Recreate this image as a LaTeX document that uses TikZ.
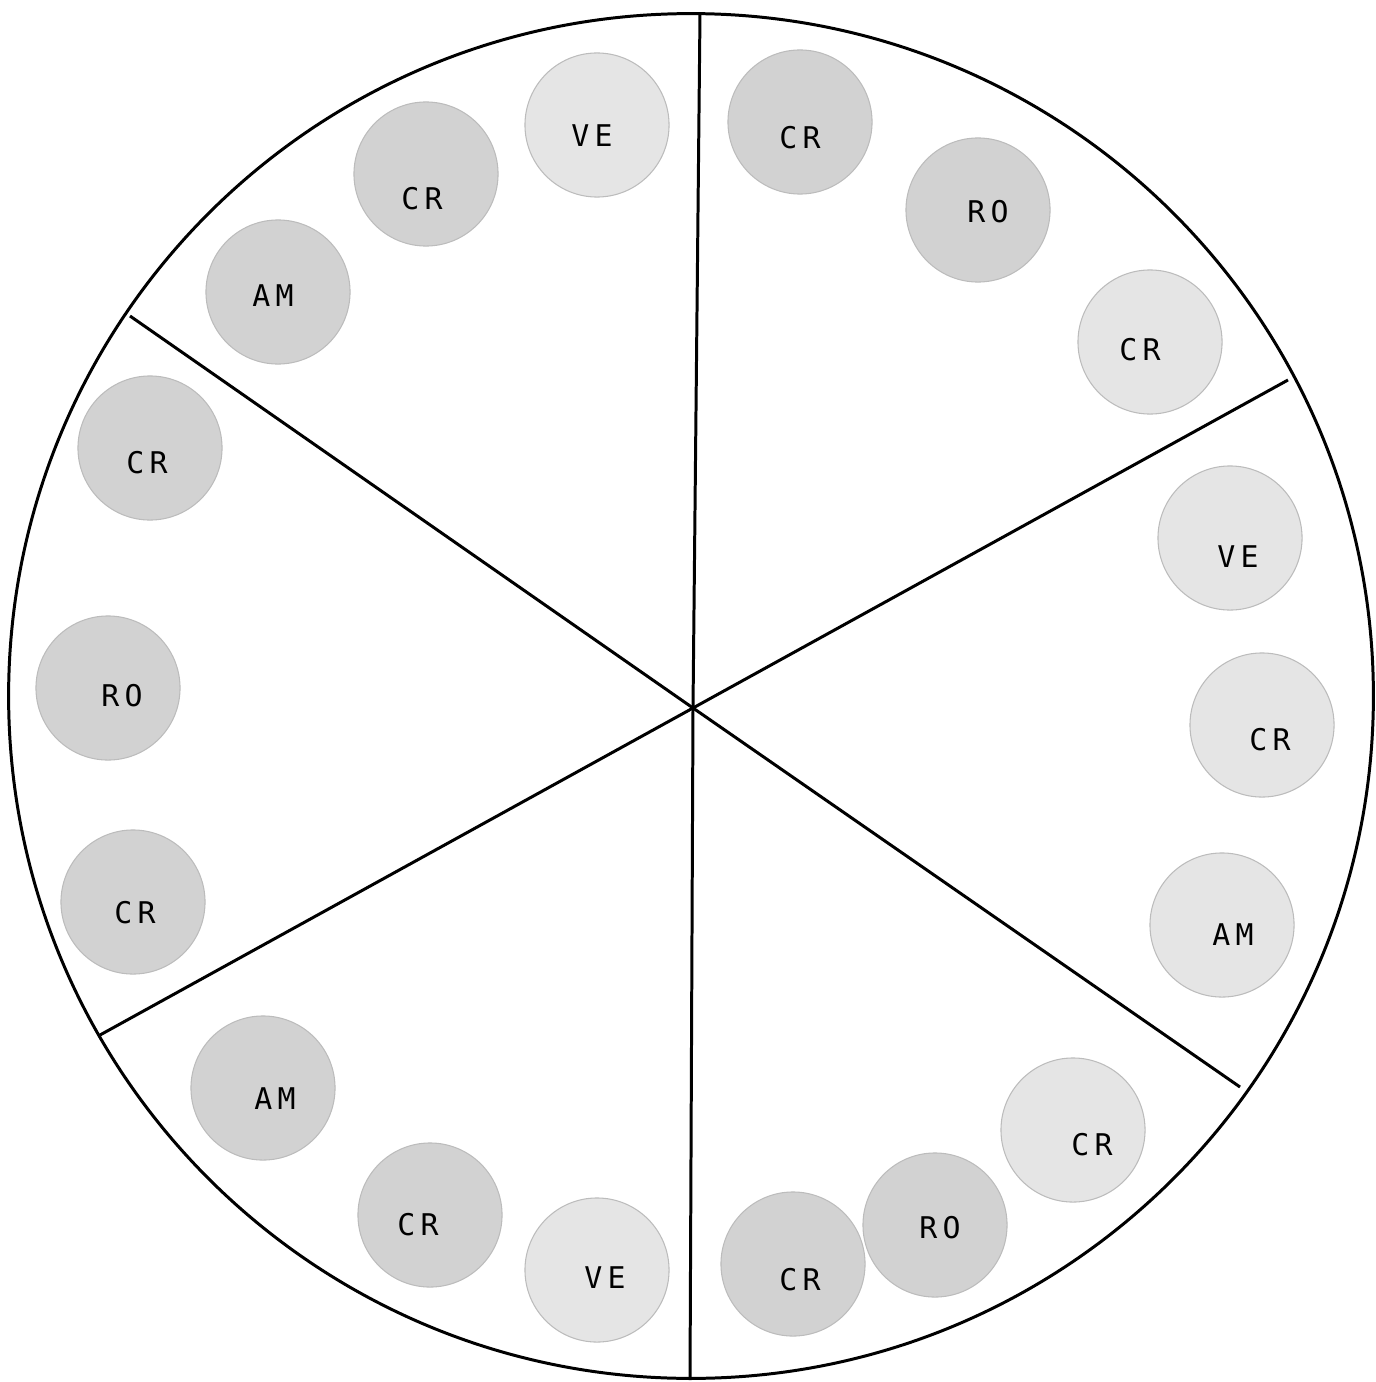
\documentclass[tikz,border=0pt]{standalone}
\usepackage{fontspec}
\usepackage{xcolor}
\usepackage{tikz}
\newfontfamily\discfont[LetterSpace=18]{DejaVu Sans Mono}
\definecolor{discdark}{RGB}{210,210,210}
\definecolor{disclight}{RGB}{229,229,229}
\definecolor{discedge}{RGB}{188,188,188}

\begin{document}
\begin{tikzpicture}[x=0.01cm,y=-0.01cm,
    rimline/.style={line width=0.85pt},
    disc/.style={circle, minimum size=1.44cm, inner sep=0pt, draw=discedge, line width=0.3pt},
    dark/.style={disc, fill=discdark},
    light/.style={disc, fill=disclight},
    tag/.style={font=\discfont\fontsize{8.5}{10}\selectfont, inner sep=0pt}
]

\useasboundingbox (0,0) rectangle (1375,1382);

% wheel and its six sectors
\draw[rimline] (691,696) circle[radius=6.82cm];
\coordinate (hub) at (693,708);
\coordinate (rimtop) at (700,13);
\coordinate (rimbot) at (690,1380);
\coordinate (rimnw) at (130,316);
\coordinate (rimsw) at (100,1035);
\coordinate (rimne) at (1288,380);
\coordinate (rimse) at (1240,1087);
\draw[rimline] (hub) -- (rimtop);
\draw[rimline] (hub) -- (rimbot);
\draw[rimline] (hub) -- (rimnw);
\draw[rimline] (hub) -- (rimsw);
\draw[rimline] (hub) -- (rimne);
\draw[rimline] (hub) -- (rimse);

% upper left sector
\node[light] (veA) at (597,125) {};
\node[tag] (veAt) at (592,136) {VE};
\node[dark] (crA) at (426,174) {};
\node[tag] (crAt) at (422,199) {CR};
\node[dark] (amA) at (278,292) {};
\node[tag] (amAt) at (273,296) {AM};

% upper right sector
\node[dark] (crB) at (800,122) {};
\node[tag] (crBt) at (800,138) {CR};
\node[dark] (roB) at (978,210) {};
\node[tag] (roBt) at (988,212) {RO};
\node[light] (crC) at (1150,342) {};
\node[tag] (crCt) at (1140,350) {CR};

% left sector
\node[dark] (crD) at (150,448) {};
\node[tag] (crDt) at (147,463) {CR};
\node[dark] (roD) at (108,688) {};
\node[tag] (roDt) at (122,696) {RO};
\node[dark] (crE) at (133,902) {};
\node[tag] (crEt) at (135,913) {CR};

% right sector
\node[light] (veF) at (1230,538) {};
\node[tag] (veFt) at (1238,557) {VE};
\node[light] (crF) at (1262,725) {};
\node[tag] (crFt) at (1270,740) {CR};
\node[light] (amF) at (1222,925) {};
\node[tag] (amFt) at (1233,935) {AM};

% lower left sector
\node[dark] (amG) at (263,1088) {};
\node[tag] (amGt) at (275,1099) {AM};
\node[dark] (crG) at (430,1215) {};
\node[tag] (crGt) at (418,1225) {CR};
\node[light] (veG) at (597,1270) {};
\node[tag] (veGt) at (605,1278) {VE};

% lower right sector
\node[dark] (crH) at (793,1264) {};
\node[tag] (crHt) at (800,1280) {CR};
\node[dark] (roH) at (935,1225) {};
\node[tag] (roHt) at (940,1228) {RO};
\node[light] (crI) at (1073,1130) {};
\node[tag] (crIt) at (1092,1145) {CR};

\end{tikzpicture}
\end{document}
